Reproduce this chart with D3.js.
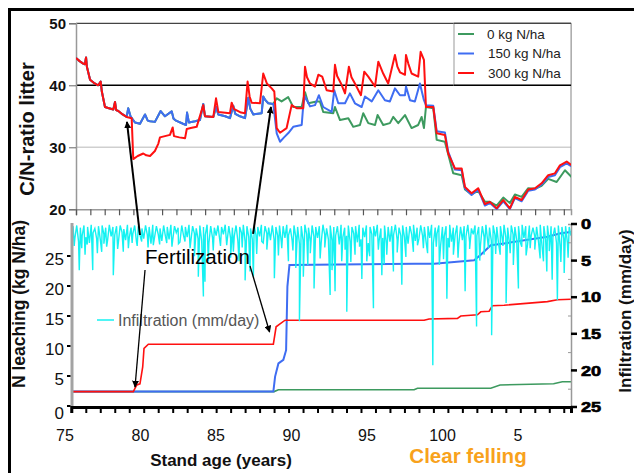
<!DOCTYPE html>
<html>
<head>
<meta charset="utf-8">
<script src="https://cdn.jsdelivr.net/npm/d3@7"></script>
<style>
  body { margin: 0; background: #fff; }
  svg { display: block; font-family: Arial, "Liberation Sans", sans-serif; }
</style>
</head>
<body>
<svg id="chart" width="634" height="473"></svg>
<script>
// ----------------------- C/N ratio of litter (top panel), [year, ratio]
var cnCommon = [[75.0,44.4],[75.25,43.9],[75.5,43.5],[75.62,43.4],[75.7,44.5],[75.76,43.0],[75.98,40.9],
    [76.3,40.3],[76.55,40.0],[76.72,40.6],[76.8,39.0],[77.02,36.5],[77.3,36.3],[77.6,36.1],[77.72,37.3],
    [77.8,36.0],[77.95,35.85],[78.25,35.3],[78.53,34.9]];

// 0 and 150 kg N/ha run together until the second fertilization
var cnUnfert = [[78.64,36.3],[78.8,35.0],[79.11,34.0],[79.46,33.8],[79.81,35.3],[80.0,34.3],[80.16,34.2],
    [80.5,34.1],[80.9,35.85],[81.2,35.0],[81.67,35.8],[81.8,34.6],[81.97,34.3],[82.46,33.8],[82.67,33.6],
    [82.74,35.6],[82.87,34.0],[83.3,34.2],[83.64,34.4],[83.87,37.0],[83.99,35.0],[84.57,34.9],[84.76,36.5],
    [84.92,35.3],[85.4,35.0],[85.73,34.7],[85.96,36.7],[86.1,35.4],[86.43,35.0],[86.78,34.7],[87.01,38.0],
    [87.15,36.2],[87.36,35.3],[87.94,35.5],[88.05,38.2],[88.2,37.6],[88.4,37.1],[88.75,37.0]];

var cnRed = [[78.88,34.7],[78.99,28.1],[79.3,28.6],[79.69,29.0],[79.9,28.7],[80.16,28.6],[80.5,29.4],
    [80.74,30.6],[80.85,31.6],[81.2,31.8],[81.55,32.0],[81.74,33.2],[81.83,31.8],[82.2,31.6],[82.6,31.45],
    [82.72,32.95],[83.0,33.1],[83.41,33.3],[83.87,36.8],[83.99,35.0],[84.57,34.9],[84.76,37.9],[84.92,35.7],
    [85.73,35.5],[85.85,37.2],[86.0,36.2],[86.5,35.6],[86.78,35.5],[86.96,40.6],[87.1,38.2],[87.24,37.2],
    [87.82,37.1],[88.05,41.9],[88.3,40.3],[88.64,39.5],[88.82,39.0],[88.99,33.1],[89.22,32.35],[89.68,33.1],
    [90.03,36.8],[90.38,36.3],[90.84,36.3],[90.96,43.0],[91.1,41.3],[91.31,40.3],[91.66,39.8],[91.89,41.7],
    [92.16,41.4],[92.47,39.2],[92.93,39.0],[93.05,43.3],[93.2,41.5],[93.47,40.3],[93.75,38.7],[94.02,43.0],
    [94.2,41.3],[94.44,40.3],[94.86,38.4],[95.09,42.2],[95.37,41.4],[95.84,39.8],[96.07,43.8],[96.41,41.9],
    [96.76,40.3],[97.23,44.9],[97.4,43.0],[97.58,42.1],[97.93,41.7],[98.0,44.9],[98.16,43.5],[98.39,41.9],
    [98.85,41.4],[99.02,45.4],[99.25,44.1],[99.39,36.5]];

var cnBlue = [[88.99,32.25],[89.22,30.9],[89.5,31.6],[89.8,32.3],[90.14,33.3],[90.73,33.6],[90.84,36.8],
    [90.96,38.2],[91.31,36.6],[91.66,36.8],[91.93,38.4],[92.23,36.5],[92.82,35.7],[93.0,39.2],[93.28,37.1],
    [93.75,37.1],[94.09,38.7],[94.44,37.1],[94.91,36.5],[95.14,38.2],[95.61,37.4],[96.07,39.2],[96.53,37.6],
    [96.88,37.4],[97.23,39.5],[97.58,38.4],[97.93,38.4],[98.0,39.8],[98.28,37.6],[98.62,37.4],[98.97,40.3],
    [99.25,37.6],[99.39,36.8]];

var cnGreen = [[88.99,37.9],[89.33,37.4],[89.79,38.1],[90.14,36.5],[90.73,36.5],[90.96,38.9],[91.19,37.1],
    [91.77,37.4],[92.0,37.4],[92.23,35.7],[92.93,35.5],[93.05,36.5],[93.4,34.4],[93.98,34.7],[94.32,33.3],
    [94.79,33.6],[95.02,35.5],[95.37,33.9],[95.84,33.6],[96.02,35.2],[96.41,33.6],[96.88,33.9],[97.11,34.9],
    [97.46,33.9],[97.93,35.2],[98.39,33.1],[98.85,33.6],[99.09,34.9],[99.25,33.1],[99.39,36.5]];

// after clear felling
var cnLateRed = [[99.9,36.5],[100.14,32.25],[100.71,32.0],[100.94,29.0],[101.41,26.6],[101.88,26.6],
    [102.11,23.6],[102.57,22.6],[103.03,23.4],[103.5,20.85],[103.85,21.2],[104.32,20.15],[104.78,21.5],
    [105.24,20.15],[105.59,22.0],[106.06,21.5],[106.52,23.2],[106.99,23.4],[107.45,24.2],[107.91,25.5],
    [108.38,25.8],[108.73,27.1],[109.2,27.7],[109.54,27.1]];
var cnLateBlue = [[99.9,36.7],[100.14,32.6],[100.71,32.4],[100.94,29.3],[101.41,26.4],[101.88,26.3],
    [102.11,23.4],[102.57,22.3],[103.03,23.2],[103.5,20.6],[103.85,21.0],[104.32,20.05],[104.78,21.3],
    [105.24,20.05],[105.59,21.8],[106.06,21.3],[106.52,23.0],[106.99,23.2],[107.45,24.0],[107.91,25.2],
    [108.38,25.5],[108.73,26.8],[109.2,27.4],[109.54,26.9]];
var cnLateGreen = [[99.9,36.3],[100.14,31.2],[100.71,30.9],[101.29,25.8],[101.88,25.5],[102.11,23.2],
    [102.57,22.4],[103.03,23.0],[103.5,21.2],[103.85,21.2],[104.32,20.6],[104.78,21.9],[105.24,21.0],
    [105.59,22.4],[106.06,22.0],[106.52,23.4],[106.99,23.3],[107.45,23.8],[107.91,24.9],[108.5,24.4],
    [109.08,26.3],[109.54,25.2]];

// ----------------------- N leaching (bottom panel), [year, kg N/ha]
var leachRed = [[75,2.4],[79.28,2.4],[79.52,3.5],[79.74,3.7],[79.93,6.5],[80.02,9.6],[80.32,10.3],
    [88.95,10.3],[89.14,13.2],[89.41,13.7],[89.76,14.3],[99.36,14.3],[99.7,14.5],[101.66,14.6],[101.89,15.0],
    [103.04,15.2],[103.27,15.7],[103.85,15.8],[104.07,16.7],[104.88,16.8],[107.87,17.4],[108.56,17.7],[109.49,17.8]];
var leachBlue = [[75,2.4],[88.95,2.4],[89.07,4.9],[89.3,7.1],[89.64,7.7],[89.83,9.3],[89.92,19.9],
    [90.06,23.5],[98.67,23.7],[100.05,23.7],[101.43,24.0],[102.81,24.3],[103.27,25.2],[103.96,26.8],
    [104.88,27.1],[107.87,28.2],[108.8,28.8],[109.49,29.0]];
var leachGreen = [[75,2.4],[89.0,2.4],[89.3,2.7],[98.67,2.7],[98.9,2.95],[103.96,2.95],[104.6,3.5],
    [108.3,3.7],[108.9,4.05],[109.5,4.05]];

// ----------------------- infiltration (mm/day): small daily values, 8 per year from 75.0
var infilBase = [
    2.2,0.3,1.9,0.2,2.4,0.5,1.6,0.2,  1.8,0.4,2.6,0.1,1.2,0.6,2.0,0.3,  2.1,0.2,1.4,0.5,2.3,0.1,1.7,0.4,
    1.5,0.3,2.5,0.2,1.1,0.7,2.2,0.1,  1.9,0.5,1.3,0.2,2.4,0.3,1.6,0.6,  2.0,0.2,1.5,0.4,2.7,0.1,1.8,0.3,
    1.4,0.6,2.3,0.2,1.7,0.4,2.1,0.1,  2.2,0.3,1.2,0.5,2.5,0.2,1.6,0.4,  1.8,0.1,2.4,0.3,1.3,0.6,2.0,0.2,
    2.3,0.4,1.5,0.1,2.6,0.3,1.9,0.5,  1.6,0.2,2.2,0.4,1.4,0.1,2.5,0.3,  2.0,0.5,1.7,0.2,2.3,0.4,1.2,0.1,
    2.4,0.3,1.8,0.6,2.1,0.2,1.5,0.4,  1.7,0.1,2.6,0.3,1.3,0.5,2.2,0.2,  2.1,0.4,1.6,0.2,2.5,0.3,1.9,0.1,
    1.5,0.6,2.3,0.2,1.8,0.4,2.7,0.3,  2.2,0.1,1.4,0.5,2.4,0.2,1.7,0.4,  1.9,0.3,2.6,0.1,1.5,0.6,2.1,0.2,
    2.3,0.4,1.6,0.3,2.8,0.1,1.8,0.5,  1.6,0.2,2.4,0.4,1.3,0.3,2.5,0.1,  2.1,0.5,1.8,0.2,2.6,0.4,1.4,0.3,
    1.7,0.1,2.3,0.6,1.9,0.2,2.7,0.4,  2.4,0.3,1.5,0.1,2.2,0.5,1.6,0.2,  1.8,0.4,2.7,0.3,1.4,0.1,2.3,0.5,
    2.0,0.2,1.6,0.4,2.5,0.3,1.9,0.1,  2.6,0.5,1.3,0.2,2.9,0.4,1.7,0.3,  1.9,0.1,2.4,0.5,1.5,0.2,2.8,0.4,
    2.2,0.3,1.7,0.1,2.5,0.6,1.4,0.2,  1.6,0.4,2.9,0.3,1.8,0.1,2.4,0.5,  2.3,0.2,1.5,0.4,2.7,0.3,2.0,0.1,
    1.8,0.5,2.6,0.2,1.4,0.4,2.2,0.3,  2.5,0.1,1.9,0.3,2.8,0.2,1.6,0.5,  1.7,0.4,2.3,0.1,3.0,0.3,2.1,0.2,
    2.4,0.3,1.8,0.5,2.6,0.2,3.1,0.4,  2.0,0.3,2.5,0.4,1.6];
// rain events, [year, mm/day]
var infilSpikes = [[75.2,3.0],[75.55,6.3],[75.72,3.3],[75.95,4.2],[76.1,2.8],[76.48,6.3],[76.8,4.0],
    [77.1,3.8],[77.25,2.7],[77.44,3.1],[77.9,7.0],[78.2,3.4],[78.59,3.8],[78.94,3.3],[79.2,2.6],[79.55,3.0],
    [79.86,2.4],[80.3,3.2],[80.66,2.9],[81.1,2.8],[81.59,2.6],[81.95,3.1],[82.4,2.7],[82.85,2.4],[83.2,3.3],
    [83.5,4.4],[83.77,7.2],[84.12,9.9],[84.23,7.9],[84.46,5.1],[84.8,3.6],[85.3,3.0],[85.73,2.9],[86.0,4.6],
    [86.19,3.8],[86.58,5.1],[86.8,3.2],[87.0,7.7],[87.34,6.5],[87.57,7.2],[87.8,4.1],[88.15,2.4],[88.5,3.5],
    [89.02,7.4],[89.3,4.3],[89.53,3.3],[89.99,5.1],[90.3,3.6],[90.5,6.0],[90.75,13.3],[91.02,7.2],[91.33,5.6],
    [91.5,4.0],[91.76,8.8],[92.18,4.7],[92.5,3.2],[92.87,9.7],[93.0,6.3],[93.21,9.2],[93.67,5.1],[93.9,3.5],
    [94.02,12.0],[94.3,5.2],[94.59,4.2],[94.9,3.1],[95.06,7.5],[95.4,5.1],[95.6,4.4],[95.86,11.5],[96.2,3.5],
    [96.44,7.0],[96.6,5.5],[96.78,4.2],[97.24,6.5],[97.5,3.9],[97.82,8.3],[98.1,4.5],[98.62,3.8],[98.9,2.9],
    [99.31,3.3],[99.6,4.0],[99.96,19.3],[100.2,3.1],[100.41,5.6],[100.7,4.8],[100.93,10.2],[101.1,3.2],
    [101.38,4.2],[101.7,4.6],[102.19,9.2],[102.5,3.4],[102.98,14.0],[103.2,5.0],[103.5,4.2],[103.8,3.3],
    [104.02,15.2],[104.3,4.1],[104.61,4.2],[104.8,3.0],[105.02,10.8],[105.3,4.0],[105.52,5.6],[105.87,8.8],
    [106.1,3.1],[106.4,4.3],[106.68,3.3],[107.0,3.5],[107.37,4.7],[107.6,5.1],[107.83,6.5],[108.0,3.7],
    [108.2,7.6],[108.56,10.4],[108.8,5.2],[109.03,6.7],[109.3,4.6]];

var cnTicks = [20, 30, 40, 50];
var leachTicks = [0, 5, 10, 15, 20, 25];
var infilTicks = [0, 5, 10, 15, 20, 25];
var ageLabels = [75, 80, 85, 90, 95, 100, 105];
var seriesNames = ["0 kg N/ha", "150 kg N/ha", "300 kg N/ha"];
var seriesColors = ["#3d9a5f", "#3f6df2", "#ff1010"];

function drawChart() {
    var svg = d3.select("#chart");

    // scales: the two panels were pasted together and do not line up exactly
    var xTop = d3.scaleLinear().domain([75, 109.5]).range([76, 571]);
    var yTop = d3.scaleLinear().domain([20, 50]).range([209.3, 23.3]);
    var xBot = d3.scaleLinear().domain([75, 109.5]).range([71.3, 571]);
    var xLab = d3.scaleLinear().domain([75, 105]).range([65, 518]);
    var yLeach = d3.scaleLinear().domain([0, 30.5]).range([406, 223]);
    var yInf = d3.scaleLinear().domain([0, 25]).range([224, 407]);

    svg.append("rect").attr("width", 634).attr("height", 473).attr("fill", "#fff");

    var defs = svg.append("defs");
    defs.append("clipPath").attr("id", "clipTop").append("rect")
        .attr("x", 76).attr("y", 21).attr("width", 495).attr("height", 189);
    defs.append("clipPath").attr("id", "clipBot").append("rect")
        .attr("x", 72).attr("y", 223).attr("width", 499).attr("height", 184);
    defs.append("marker").attr("id", "head").attr("viewBox", "0 0 10 10")
        .attr("refX", 9).attr("refY", 5).attr("markerWidth", 7).attr("markerHeight", 7)
        .attr("markerUnits", "userSpaceOnUse").attr("orient", "auto")
        .append("path").attr("d", "M0,0 L10,5 L0,10 z").attr("fill", "#000");

    // ---------- top panel
    var top = svg.append("g");
    top.append("line").attr("x1", 76).attr("x2", 571).attr("y1", yTop(30)).attr("y2", yTop(30))
        .attr("stroke", "#cfcfcf").attr("stroke-width", 1.5);
    top.append("line").attr("x1", 76).attr("x2", 571).attr("y1", yTop(40)).attr("y2", yTop(40))
        .attr("stroke", "#000").attr("stroke-width", 1.5);
    top.append("line").attr("x1", 76).attr("x2", 571).attr("y1", yTop(50)).attr("y2", yTop(50))
        .attr("stroke", "#444").attr("stroke-width", 1.2);
    top.append("line").attr("x1", 571).attr("x2", 571).attr("y1", yTop(50)).attr("y2", yTop(20))
        .attr("stroke", "#999").attr("stroke-width", 1.2);

    var yAxisTop = top.append("g").attr("transform", "translate(76,0)")
        .call(d3.axisLeft(yTop).tickValues(cnTicks).tickSize(7).tickPadding(3));
    yAxisTop.select(".domain").attr("stroke", "#999").attr("stroke-width", 1.5);
    yAxisTop.selectAll(".tick line").attr("stroke", "#666");
    yAxisTop.selectAll("text").attr("font-size", 15).attr("font-weight", "bold").attr("fill", "#111")
        .attr("font-family", "Arial, 'Liberation Sans', sans-serif");

    var xAxisTop = top.append("g").attr("transform", "translate(0," + yTop(20) + ")")
        .call(d3.axisBottom(xTop).tickValues(d3.range(75, 110)).tickSize(6).tickFormat(""));
    xAxisTop.select(".domain").attr("stroke", "#999").attr("stroke-width", 1.5);
    xAxisTop.selectAll(".tick line").attr("stroke", "#555").attr("stroke-width", 1.2);

    var cnLine = d3.line().x(function(d) { return xTop(d[0]); }).y(function(d) { return yTop(d[1]); });
    var cnSeries = [
        cnCommon.concat(cnUnfert, cnGreen, cnLateGreen),
        cnCommon.concat(cnUnfert, cnBlue, cnLateBlue),
        cnCommon.concat(cnRed, cnLateRed)
    ];
    top.append("g").attr("clip-path", "url(#clipTop)")
        .selectAll("path").data(cnSeries).enter().append("path")
        .attr("d", cnLine)
        .attr("fill", "none")
        .attr("stroke", function(d, i) { return seriesColors[i]; })
        .attr("stroke-width", 2)
        .attr("stroke-linejoin", "round");

    // legend box
    var leg = top.append("g");
    leg.append("rect").attr("x", 454).attr("y", yTop(50)).attr("width", 117).attr("height", yTop(40) - yTop(50))
        .attr("fill", "#fff").attr("stroke", "#999").attr("stroke-width", 1);
    leg.append("line").attr("x1", 454).attr("x2", 571).attr("y1", yTop(40)).attr("y2", yTop(40))
        .attr("stroke", "#000").attr("stroke-width", 1.5);
    leg.append("line").attr("x1", 454).attr("x2", 571).attr("y1", yTop(50)).attr("y2", yTop(50))
        .attr("stroke", "#444").attr("stroke-width", 1.2);
    seriesNames.forEach(function(name, i) {
        var ly = 34 + i * 19.5;
        leg.append("line").attr("x1", 458).attr("x2", 474).attr("y1", ly).attr("y2", ly)
            .attr("stroke", seriesColors[i]).attr("stroke-width", 2);
        leg.append("text").attr("x", i === 0 ? 487 : 488).attr("y", ly).attr("dy", "0.35em")
            .attr("font-size", 13.5).attr("fill", "#222").text(name);
    });

    svg.append("text").attr("transform", "translate(27,129) rotate(-90)")
        .attr("text-anchor", "middle").attr("dominant-baseline", "central")
        .attr("font-size", 20).attr("font-weight", "bold").attr("fill", "#111").text("C/N-ratio litter");

    // ---------- bottom panel
    var bot = svg.append("g");
    var nLine = d3.line().x(function(d) { return xBot(d[0]); }).y(function(d) { return yLeach(d[1]); });
    bot.append("g").attr("clip-path", "url(#clipBot)")
        .selectAll("path").data([leachGreen, leachBlue, leachRed]).enter().append("path")
        .attr("d", nLine)
        .attr("fill", "none")
        .attr("stroke", function(d, i) { return seriesColors[i]; })
        .attr("stroke-width", function(d, i) { return i === 1 ? 2 : 1.6; });

    var infil = infilBase.map(function(v, i) { return [75 + i * 0.125, v]; })
        .concat(infilSpikes)
        .sort(function(a, b) { return a[0] - b[0]; });
    var infLine = d3.line().x(function(d) { return xBot(d[0]); }).y(function(d) { return yInf(d[1]); });
    bot.append("path").datum(infil).attr("clip-path", "url(#clipBot)")
        .attr("d", infLine).attr("fill", "none").attr("stroke", "#14f2f2").attr("stroke-width", 1.4);

    // left axis
    bot.append("line").attr("x1", 72).attr("x2", 72).attr("y1", 223).attr("y2", 407)
        .attr("stroke", "#a3a3a3").attr("stroke-width", 3);
    bot.selectAll(".lt").data(leachTicks).enter().append("line")
        .attr("x1", 67).attr("x2", 70.5)
        .attr("y1", function(d) { return yLeach(d); }).attr("y2", function(d) { return yLeach(d); })
        .attr("stroke", "#000").attr("stroke-width", 2);
    bot.selectAll(".ll").data(leachTicks).enter().append("text")
        .attr("x", 64).attr("y", function(d) { return yLeach(d) + (d === 0 ? 7 : 3); })
        .attr("dominant-baseline", "central").attr("text-anchor", "end")
        .attr("font-size", 17).attr("fill", "#111").text(function(d) { return d; });

    // right axis
    var yAxisRight = bot.append("g").attr("transform", "translate(571,0)")
        .call(d3.axisLeft(yInf).tickValues(d3.range(2.5, 25, 5)).tickSize(3).tickFormat(""));
    yAxisRight.select(".domain").attr("stroke", "#999").attr("stroke-width", 1.5);
    yAxisRight.selectAll(".tick line").attr("stroke", "#999");
    bot.selectAll(".rt").data(infilTicks).enter().append("line")
        .attr("x1", 571).attr("x2", 577)
        .attr("y1", function(d) { return yInf(d); }).attr("y2", function(d) { return yInf(d); })
        .attr("stroke", "#000").attr("stroke-width", 2.5);
    bot.selectAll(".rl").data(infilTicks).enter().append("text")
        .attr("transform", function(d) { return "translate(581," + yInf(d) + ") scale(1.3,1)"; })
        .attr("dominant-baseline", "central")
        .attr("font-size", 14).attr("font-weight", "bold").attr("fill", "#000")
        .attr("stroke", "#000").attr("stroke-width", 0.6)
        .text(function(d) { return d; });

    // bottom axis
    var xAxisBot = bot.append("g").attr("transform", "translate(0,407)")
        .call(d3.axisBottom(xBot).tickValues(d3.range(75, 110)).tickSize(6).tickFormat(""));
    xAxisBot.select(".domain").attr("stroke", "#000").attr("stroke-width", 3);
    xAxisBot.selectAll(".tick line").attr("stroke", "#000").attr("stroke-width", 2);
    bot.selectAll(".xl").data(ageLabels).enter().append("text")
        .attr("x", function(d) { return xLab(d); }).attr("y", 441)
        .attr("text-anchor", "middle").attr("font-size", 16).attr("fill", "#111")
        .text(function(d) { return d > 100 ? d - 100 : d; });

    // infiltration legend
    bot.append("line").attr("x1", 97).attr("x2", 114).attr("y1", 320).attr("y2", 320)
        .attr("stroke", "#14f2f2").attr("stroke-width", 1.5);
    bot.append("text").attr("x", 118).attr("y", 320).attr("dy", "0.35em")
        .attr("font-size", 16).attr("fill", "#555").text("Infiltration (mm/day)");

    svg.append("text").attr("transform", "translate(19,304) rotate(-90)")
        .attr("text-anchor", "middle").attr("dominant-baseline", "central")
        .attr("font-size", 17.5).attr("font-weight", "bold").attr("fill", "#111").text("N leaching (kg N/ha)");
    svg.append("text").attr("transform", "translate(625,311) rotate(-90)")
        .attr("text-anchor", "middle").attr("dominant-baseline", "central")
        .attr("font-size", 17).attr("font-weight", "bold").attr("fill", "#111").text("Infiltration (mm/day)");
    svg.append("text").attr("x", 221).attr("y", 466).attr("text-anchor", "middle")
        .attr("font-size", 17).attr("font-weight", "bold").attr("fill", "#111").text("Stand age (years)");
    svg.append("text").attr("x", 468).attr("y", 463).attr("text-anchor", "middle")
        .attr("font-size", 20.5).attr("font-weight", "bold").attr("fill", "#f8a21c").text("Clear felling");

    // ---------- fertilization annotation
    svg.append("text").attr("x", 145).attr("y", 264)
        .attr("font-size", 20.5).attr("fill", "#000").text("Fertilization");
    var arrows = [
        { from: [xBot(79.74), yLeach(28.5)], to: [xTop(78.55), yTop(34.1)], w: 2 },
        { from: [xBot(87.55), yLeach(28.67)], to: [xTop(88.59), yTop(36.5)], w: 2 },
        { from: [xBot(80.09), yLeach(22.67)], to: [xBot(79.4), yLeach(3.17)], w: 1.3 },
        { from: [xBot(87.34), yLeach(23.33)], to: [xBot(88.69), yLeach(12.33)], w: 1.3 }
    ];
    svg.selectAll(".arrow").data(arrows).enter().append("line")
        .attr("x1", function(d) { return d.from[0]; }).attr("y1", function(d) { return d.from[1]; })
        .attr("x2", function(d) { return d.to[0]; }).attr("y2", function(d) { return d.to[1]; })
        .attr("stroke", "#000").attr("stroke-width", function(d) { return d.w; })
        .attr("marker-end", "url(#head)");

    // outer frame
    svg.append("line").attr("x1", 8).attr("x2", 634).attr("y1", 9.5).attr("y2", 9.5)
        .attr("stroke", "#000").attr("stroke-width", 3);
    svg.append("line").attr("x1", 9.5).attr("x2", 9.5).attr("y1", 8).attr("y2", 473)
        .attr("stroke", "#000").attr("stroke-width", 3);
}

drawChart();
</script>
</body>
</html>
